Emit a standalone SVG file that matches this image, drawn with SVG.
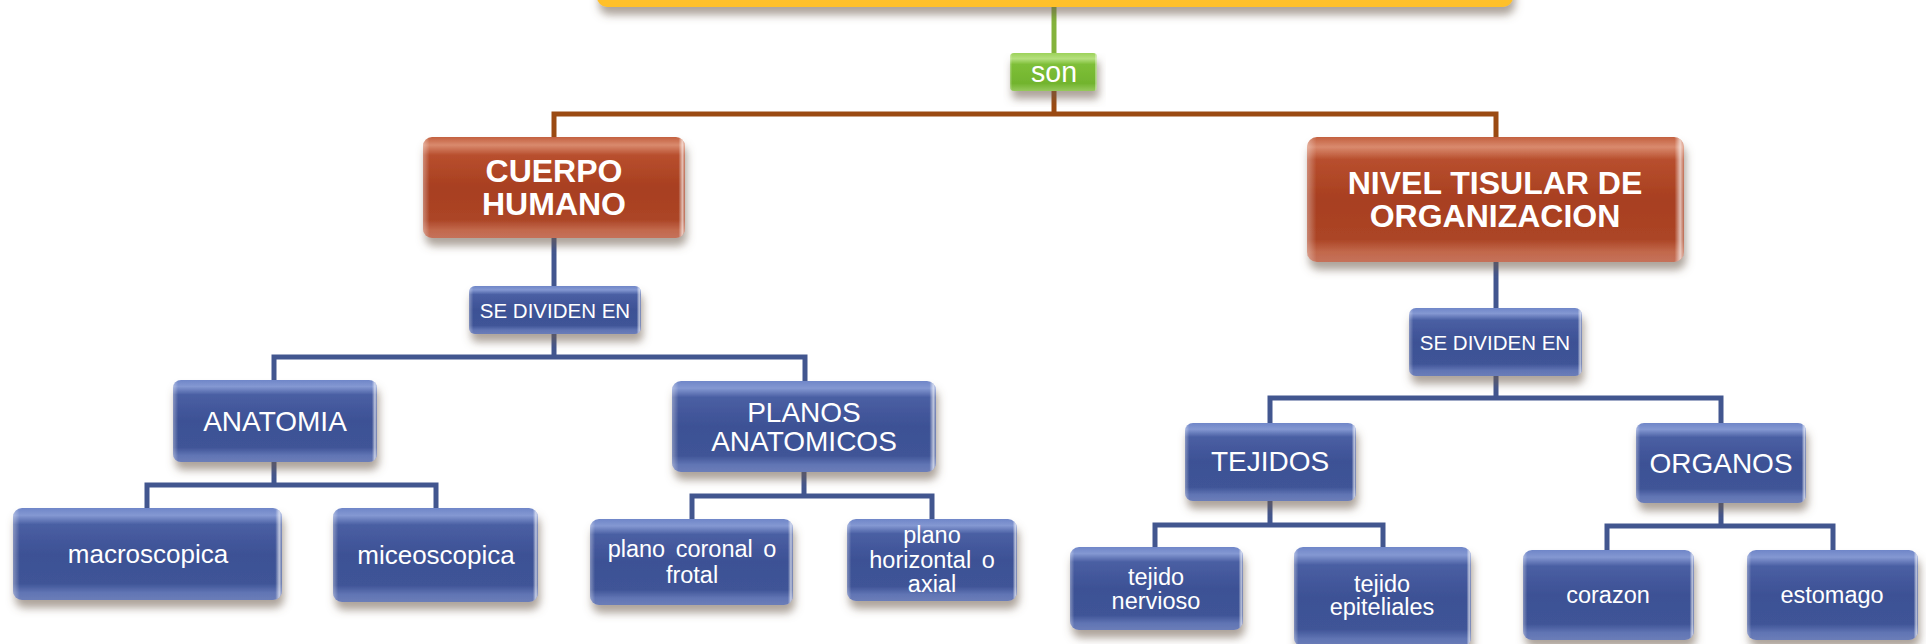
<svg xmlns="http://www.w3.org/2000/svg" width="1926" height="644" viewBox="0 0 1926 644">
<style>
text{font-family:"Liberation Sans",Arial,sans-serif;fill:#fff;text-anchor:middle}
.t28{font-size:28px}
.t24{font-size:23.5px}
.t26{font-size:26px}
.t21{font-size:20.5px}
.tb{font-size:32px;font-weight:bold}
.blue{fill:url(#gBlue)}
.red{fill:url(#gRed)}
.grn{fill:url(#gGreen)}
.yel{fill:url(#gYel)}
.sh{filter:url(#shadow)}
.edge{fill:url(#gEdge)}
.cb{fill:none;stroke:#42568F;stroke-width:5;stroke-linejoin:miter}
.cr{fill:none;stroke:#9B4A12;stroke-width:5}
.cg{fill:none;stroke:#84B33C;stroke-width:5}
</style>
<defs>
<filter id="shadow" x="-10%" y="-20%" width="120%" height="160%">
<feGaussianBlur in="SourceAlpha" stdDeviation="4"/>
<feOffset dx="2" dy="8" result="b"/>
<feFlood flood-color="#6b5a4a" flood-opacity="0.55"/>
<feComposite in2="b" operator="in"/>
<feMerge><feMergeNode/><feMergeNode in="SourceGraphic"/></feMerge>
</filter>
<linearGradient id="gBlue" x1="0" y1="0" x2="0" y2="1">
<stop offset="0" stop-color="#6F86C8"/>
<stop offset="0.08" stop-color="#8498D2"/>
<stop offset="0.18" stop-color="#4A5FA3"/>
<stop offset="0.5" stop-color="#3D5195"/>
<stop offset="0.82" stop-color="#3F5497"/>
<stop offset="0.92" stop-color="#6175B4"/>
<stop offset="1" stop-color="#6B7DB8"/>
</linearGradient>
<linearGradient id="gRed" x1="0" y1="0" x2="0" y2="1">
<stop offset="0" stop-color="#C3603F"/>
<stop offset="0.08" stop-color="#D98A6E"/>
<stop offset="0.18" stop-color="#B84F2E"/>
<stop offset="0.5" stop-color="#A83F20"/>
<stop offset="0.82" stop-color="#AC4526"/>
<stop offset="0.92" stop-color="#C2694C"/>
<stop offset="1" stop-color="#C5715A"/>
</linearGradient>
<linearGradient id="gGreen" x1="0" y1="0" x2="0" y2="1">
<stop offset="0" stop-color="#9CD25A"/>
<stop offset="0.15" stop-color="#B5E07E"/>
<stop offset="0.3" stop-color="#7EBF38"/>
<stop offset="0.8" stop-color="#72B42E"/>
<stop offset="1" stop-color="#96C95C"/>
</linearGradient>
<linearGradient id="gYel" x1="0" y1="0" x2="0" y2="1">
<stop offset="0" stop-color="#FFC52E"/>
<stop offset="1" stop-color="#FFC02A"/>
</linearGradient>
<linearGradient id="gEdge" x1="0" y1="0" x2="1" y2="0">
<stop offset="0" stop-color="#fff" stop-opacity="0.35"/>
<stop offset="0.025" stop-color="#fff" stop-opacity="0"/>
<stop offset="0.975" stop-color="#fff" stop-opacity="0"/>
<stop offset="0.99" stop-color="#fff" stop-opacity="0.65"/>
<stop offset="1" stop-color="#fff" stop-opacity="0.2"/>
</linearGradient>
</defs>

<g id="connectors">
<path class="cg" d="M1054 7 V53"/>
<path class="cr" d="M1054 91 V114 M554 137 V114 H1496 V137"/>
<path class="cb" d="M554 238 V286"/>
<path class="cb" d="M554 334 V357 M274 381 V357 H805 V381"/>
<path class="cb" d="M274 462 V485 M147 508 V485 H436 V508"/>
<path class="cb" d="M804 472 V496 M692 519 V496 H932 V519"/>
<path class="cb" d="M1496 262 V308"/>
<path class="cb" d="M1496 376 V398 M1270 423 V398 H1721 V423"/>
<path class="cb" d="M1270 501 V525 M1155 547 V525 H1383 V547"/>
<path class="cb" d="M1721 503 V526 M1607 550 V526 H1833 V550"/>
</g>

<g id="root">
<rect class="yel sh" x="597" y="-60" width="916" height="67" rx="10"/>
</g>

<g id="son">
<rect class="grn sh" x="1010" y="53" width="87" height="38" rx="4"/>
<rect class="edge" x="1010" y="53" width="87" height="38" rx="4"/>
<text x="1054" y="82" style="font-size:29px" textLength="46" lengthAdjust="spacingAndGlyphs">son</text>
</g>

<g id="cuerpo">
<rect class="red sh" x="423" y="137" width="262" height="101" rx="9"/>
<rect class="edge" x="423" y="137" width="262" height="101" rx="9"/>
<text class="tb" x="554" y="182">CUERPO</text>
<text class="tb" x="554" y="215">HUMANO</text>
</g>

<g id="nivel">
<rect class="red sh" x="1307" y="137" width="377" height="125" rx="10"/>
<rect class="edge" x="1307" y="137" width="377" height="125" rx="10"/>
<text class="tb" x="1495" y="194">NIVEL TISULAR DE</text>
<text class="tb" x="1495" y="227">ORGANIZACION</text>
</g>

<g id="sedividen1">
<rect class="blue sh" x="469" y="286" width="172" height="48" rx="6"/>
<rect class="edge" x="469" y="286" width="172" height="48" rx="6"/>
<text class="t21" x="555" y="318">SE DIVIDEN EN</text>
</g>

<g id="sedividen2">
<rect class="blue sh" x="1409" y="308" width="173" height="68" rx="7"/>
<rect class="edge" x="1409" y="308" width="173" height="68" rx="7"/>
<text class="t21" x="1495" y="350">SE DIVIDEN EN</text>
</g>

<g id="anatomia">
<rect class="blue sh" x="173" y="380" width="204" height="82" rx="8"/>
<rect class="edge" x="173" y="380" width="204" height="82" rx="8"/>
<text class="t28" x="275" y="431">ANATOMIA</text>
</g>

<g id="planos">
<rect class="blue sh" x="672" y="381" width="264" height="91" rx="9"/>
<rect class="edge" x="672" y="381" width="264" height="91" rx="9"/>
<text class="t28" x="804" y="422">PLANOS</text>
<text class="t28" x="804" y="451">ANATOMICOS</text>
</g>

<g id="macroscopica">
<rect class="blue sh" x="13" y="508" width="269" height="92" rx="9"/>
<rect class="edge" x="13" y="508" width="269" height="92" rx="9"/>
<text class="t26" x="148" y="563">macroscopica</text>
</g>

<g id="miceoscopica">
<rect class="blue sh" x="333" y="508" width="205" height="94" rx="9"/>
<rect class="edge" x="333" y="508" width="205" height="94" rx="9"/>
<text class="t26" x="436" y="564">miceoscopica</text>
</g>

<g id="coronal">
<rect class="blue sh" x="590" y="519" width="203" height="86" rx="9"/>
<rect class="edge" x="590" y="519" width="203" height="86" rx="9"/>
<text class="t24" x="692" y="557" word-spacing="4">plano coronal o</text>
<text class="t24" x="692" y="583">frotal</text>
</g>

<g id="horizontal">
<rect class="blue sh" x="847" y="519" width="170" height="82" rx="9"/>
<rect class="edge" x="847" y="519" width="170" height="82" rx="9"/>
<text class="t24" x="932" y="543">plano</text>
<text class="t24" x="932" y="568" word-spacing="4">horizontal o</text>
<text class="t24" x="932" y="592">axial</text>
</g>

<g id="tejidos">
<rect class="blue sh" x="1185" y="423" width="171" height="78" rx="8"/>
<rect class="edge" x="1185" y="423" width="171" height="78" rx="8"/>
<text class="t28" x="1270" y="471">TEJIDOS</text>
</g>

<g id="organos">
<rect class="blue sh" x="1636" y="423" width="170" height="80" rx="8"/>
<rect class="edge" x="1636" y="423" width="170" height="80" rx="8"/>
<text class="t28" x="1721" y="473">ORGANOS</text>
</g>

<g id="nervioso">
<rect class="blue sh" x="1070" y="547" width="173" height="83" rx="9"/>
<rect class="edge" x="1070" y="547" width="173" height="83" rx="9"/>
<text class="t24" x="1156" y="585">tejido</text>
<text class="t24" x="1156" y="609">nervioso</text>
</g>

<g id="epiteliales">
<rect class="blue sh" x="1294" y="547" width="177" height="100" rx="9"/>
<rect class="edge" x="1294" y="547" width="177" height="100" rx="9"/>
<text class="t24" x="1382" y="592">tejido</text>
<text class="t24" x="1382" y="615">epiteliales</text>
</g>

<g id="corazon">
<rect class="blue sh" x="1523" y="550" width="171" height="90" rx="9"/>
<rect class="edge" x="1523" y="550" width="171" height="90" rx="9"/>
<text class="t24" x="1608" y="603">corazon</text>
</g>

<g id="estomago">
<rect class="blue sh" x="1747" y="550" width="171" height="90" rx="9"/>
<rect class="edge" x="1747" y="550" width="171" height="90" rx="9"/>
<text class="t24" x="1832" y="603">estomago</text>
</g>
</svg>
